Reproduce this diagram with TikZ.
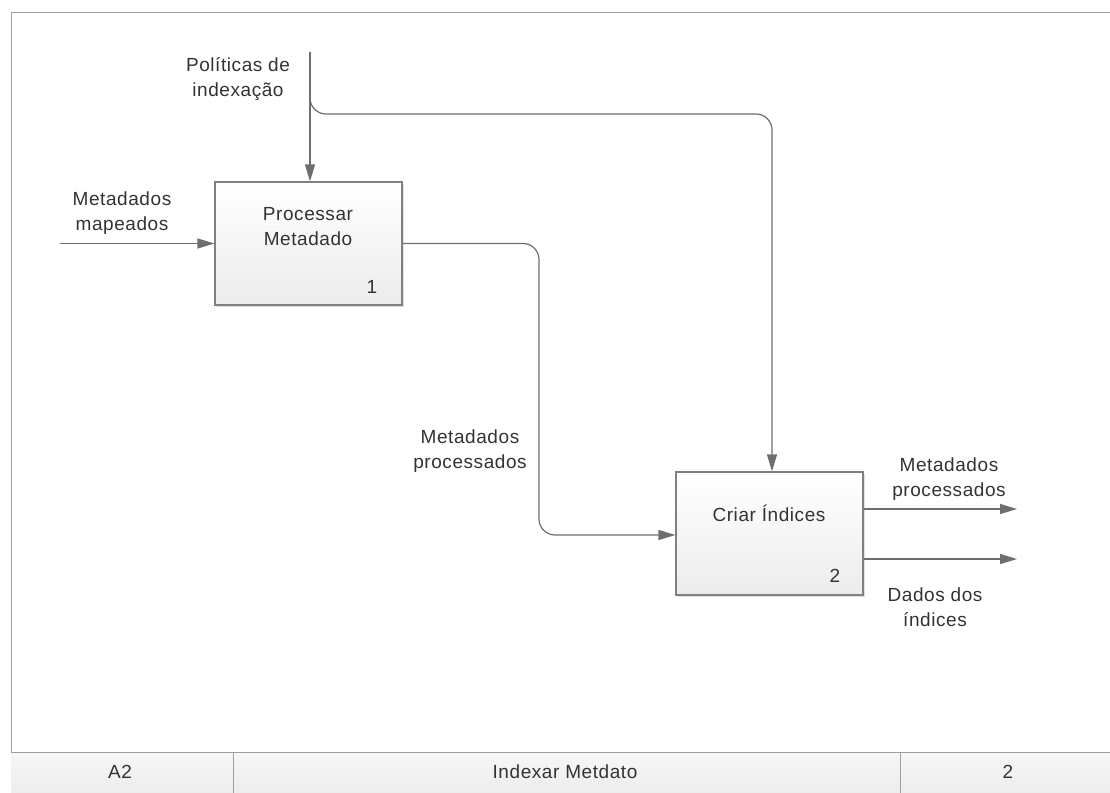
\documentclass[tikz,border=0pt]{standalone}
\usepackage{fontspec}
\setmainfont{Liberation Sans}[LetterSpace=3]
\usetikzlibrary{arrows.meta,shadows}
\definecolor{linegray}{RGB}{110,110,110}
\definecolor{boxedge}{RGB}{128,128,128}
\definecolor{boxlow}{RGB}{236,236,236}
\definecolor{framegray}{RGB}{160,160,160}
\definecolor{txt}{RGB}{50,50,55}
\begin{document}
\begin{tikzpicture}[x=1pt,y=-1pt,
  every node/.style={text=txt,font=\fontsize{19}{25}\selectfont},
  actbox/.style={draw=boxedge,line width=1.2pt,top color=white,bottom color=boxlow,
    minimum width=187pt,minimum height=123pt,inner sep=0pt,
    drop shadow={shadow xshift=2pt,shadow yshift=-2pt,fill=black,opacity=0.12}},
  lbl/.style={align=center,inner sep=0pt},
  flow/.style={draw=linegray,line width=1.2pt,rounded corners=16pt,
    -{Triangle[length=17pt,width=10pt]}},
  foot/.style={font=\fontsize{19}{22}\selectfont,inner sep=0pt}]
\useasboundingbox (0,0) rectangle (1110,792);
% page frame
\draw[framegray,line width=1pt] (11,800) -- (11,13) -- (1120,13);
% footer strip
\shade[top color=white!97!black,bottom color=white!92!black] (11,752) rectangle (1120,800);
\draw[framegray,line width=1pt] (11,752) -- (1120,752) (233,752) -- (233,800) (900,752) -- (900,800);
\node[foot] (fa) at (120,772) {A2};
\node[foot] (fb) at (565,772) {Indexar Metdato};
\node[foot] (fc) at (1008,772) {2};
% activity boxes
\node[actbox] (p1) at (308.5,243.5) {};
\node[actbox] (p2) at (769.5,533.5) {};
\node[lbl] (p1t) at (308,227) {Processar\\Metadado};
\node[lbl] (p1n) at (372,287) {1};
\node[lbl] (p2t) at (769,513) {Criar Índices};
\node[lbl] (p2n) at (835,576) {2};
% free ends
\coordinate (pol) at (310,52);
\coordinate (br) at (310,78);
\coordinate (in1) at (60,243.5);
\coordinate (o1) at (1017,509);
\coordinate (o2) at (1017,559);
% connectors
\draw[flow] (pol) -- (pol |- p1.north);
\draw[flow] (br) -- (310,114) -- (772,114) -- (772,114 |- p2.north);
\draw[flow] (in1) -- (p1.west);
\draw[flow] (p1.east) -- (539,243.5) -- (539,535) -- (p2.west |- 0,535);
\draw[flow] (p2.east |- o1) -- (o1);
\draw[flow] (p2.east |- o2) -- (o2);
% labels
\node[lbl] (lpol) at (238,79) {Políticas de\\indexação};
\node[lbl] (lin) at (122,213) {Metadados\\mapeados};
\node[lbl] (lmid) at (470,451) {Metadados\\processados};
\node[lbl] (lo1) at (949,479) {Metadados\\processados};
\node[lbl] (lo2) at (935,607) {Dados dos\\índices};
\end{tikzpicture}
\end{document}
